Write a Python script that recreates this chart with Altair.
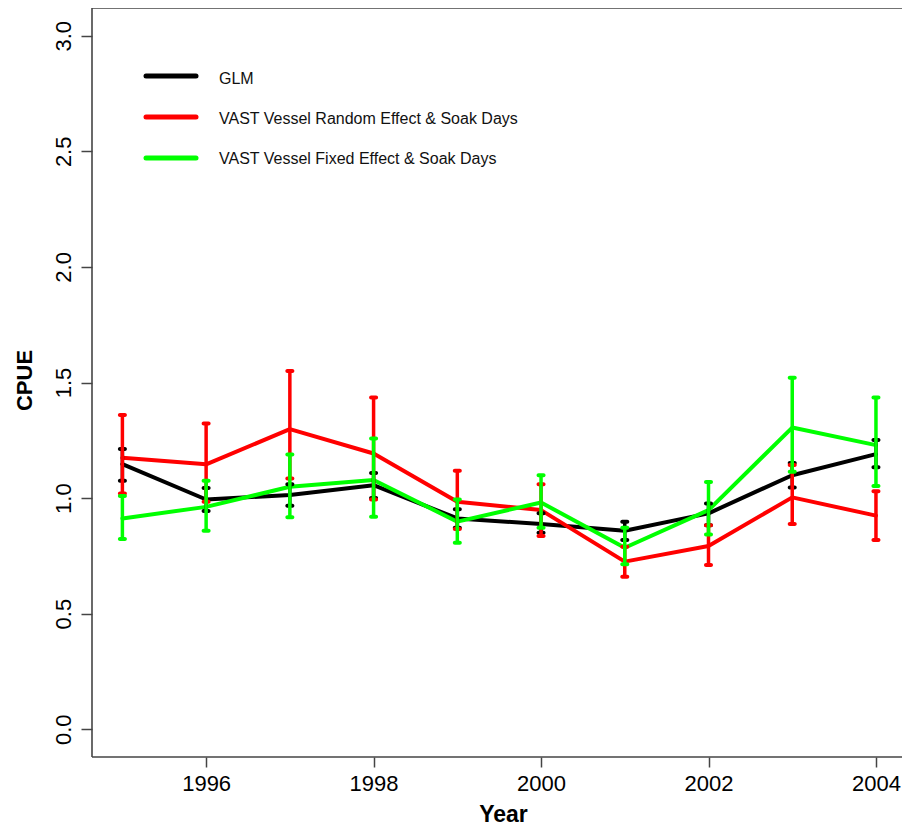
import altair as alt
import pandas as pd

# ---- data ----
years = [1995, 1996, 1997, 1998, 1999, 2000, 2001, 2002, 2003, 2004]

series_names = ["GLM",
                "VAST Vessel Random Effect & Soak Days",
                "VAST Vessel Fixed Effect & Soak Days"]
series_colors = ["#000000", "#FF0000", "#00FF00"]

glm_mean = [1.147, 0.994, 1.013, 1.056, 0.912, 0.888, 0.859, 0.934, 1.099, 1.190]
glm_lo   = [1.075, 0.944, 0.967, 1.000, 0.872, 0.850, 0.819, 0.883, 1.046, 1.133]
glm_hi   = [1.212, 1.044, 1.060, 1.109, 0.952, 0.934, 0.898, 0.977, 1.152, 1.251]

re_mean = [1.174, 1.146, 1.298, 1.193, 0.984, 0.948, 0.725, 0.793, 1.003, 0.924]
re_lo   = [1.020, 0.984, 1.085, 0.994, 0.866, 0.836, 0.660, 0.711, 0.888, 0.819]
re_hi   = [1.359, 1.323, 1.550, 1.435, 1.118, 1.060, 0.790, 0.883, 1.143, 1.030]

fe_mean = [0.912, 0.962, 1.049, 1.078, 0.898, 0.981, 0.785, 0.948, 1.305, 1.229]
fe_lo   = [0.823, 0.859, 0.917, 0.919, 0.807, 0.872, 0.714, 0.843, 1.114, 1.052]
fe_hi   = [1.009, 1.075, 1.189, 1.258, 0.994, 1.099, 0.872, 1.070, 1.521, 1.435]

x_ticks = [1996, 1998, 2000, 2002, 2004]
y_ticks = [0.0, 0.5, 1.0, 1.5, 2.0, 2.5, 3.0]

means = [glm_mean, re_mean, fe_mean]
los = [glm_lo, re_lo, fe_lo]
his = [glm_hi, re_hi, fe_hi]

FONT = "Liberation Sans"
W, H = 810, 749

xscale = alt.Scale(domain=[1994.637, 2004.311], nice=False, zero=False)
yscale = alt.Scale(domain=[-0.12, 3.12], nice=False, zero=False)

xaxis = alt.Axis(values=x_ticks, format="d", title="Year", grid=False, domain=False,
                 labelFontSize=22, labelFont=FONT, labelColor="#000000",
                 tickSize=10, tickColor="#444444", tickWidth=1.5, labelPadding=6,
                 titleFontSize=23, titleFont=FONT, titleFontWeight="bold",
                 titleColor="#000000", titleBaseline="alphabetic", titleY=64,
                 titleX=411, labelFlush=False)
yaxis = alt.Axis(values=y_ticks, format=".1f", title="CPUE", grid=False, domain=False,
                 labelFontSize=22, labelFont=FONT, labelColor="#000000",
                 labelAngle=270, labelAlign="center", labelBaseline="alphabetic",
                 tickSize=11, tickColor="#444444", tickWidth=1.5, labelPadding=11,
                 titleFontSize=22, titleFont=FONT, titleFontWeight="bold",
                 titleColor="#000000", titleAngle=270, titleAlign="center",
                 titleBaseline="middle", titleX=-68, titleY=372, labelFlush=False)


def X(field):
    return alt.X(f"{field}:Q", scale=xscale, axis=xaxis)


def Y(field):
    return alt.Y(f"{field}:Q", scale=yscale, axis=yaxis)


one = pd.DataFrame({"k": [0]})

# plot frame: left, top and bottom (the reference's right edge lies outside the picture)
frame_layers = [
    alt.Chart(one).mark_rule(color="#444444", strokeWidth=1.6).encode(
        x=alt.value(0), y=alt.value(0), y2=alt.value(H)),
    alt.Chart(one).mark_rule(color="#444444", strokeWidth=1.6).encode(
        x=alt.value(0), x2=alt.value(W), y=alt.value(0)),
    alt.Chart(one).mark_rule(color="#444444", strokeWidth=1.6).encode(
        x=alt.value(0), x2=alt.value(W), y=alt.value(H)),
]

line_layers = []
err_layers = []
for name, col, m, lo, hi in zip(series_names, series_colors, means, los, his):
    df = pd.DataFrame({"year": years, "cpue": m, "lo": lo, "hi": hi})
    line_layers.append(
        alt.Chart(df).mark_line(color=col, strokeWidth=4, strokeCap="round",
                                strokeJoin="round").encode(x=X("year"), y=Y("cpue"))
    )
    err_layers.append(
        alt.Chart(df).mark_rule(color=col, strokeWidth=3.5).encode(
            x=X("year"), y=Y("lo"), y2="hi")
    )
    caps = pd.DataFrame({"year": years + years, "cap": lo + hi})
    err_layers.append(
        alt.Chart(caps).mark_tick(color=col, orient="horizontal", size=9,
                                  thickness=4, cornerRadius=2, opacity=1).encode(
            x=X("year"), y=Y("cap"))
    )

# manual in-plot legend (no box), as in the reference
legend_layers = []
leg_line_y = [68, 109, 150]
leg_text_y = [71, 111, 151]
for name, col, ly, ty in zip(series_names, series_colors, leg_line_y, leg_text_y):
    legend_layers.append(
        alt.Chart(one).mark_rule(color=col, strokeWidth=5, strokeCap="round").encode(
            x=alt.value(54), x2=alt.value(104), y=alt.value(ly))
    )
    legend_layers.append(
        alt.Chart(one).mark_text(text=name, align="left", baseline="middle",
                                 fontSize=16, font=FONT, color="#111111").encode(
            x=alt.value(127), y=alt.value(ty))
    )

chart = alt.layer(*line_layers, *err_layers, *legend_layers, *frame_layers).properties(
    width=W, height=H,
    autosize=alt.AutoSizeParams(type="none"),
    padding={"left": 84, "top": 0, "right": 0, "bottom": 69},
    background="white",
).configure_view(stroke=None)

chart.save("out.html", embed_options={"renderer": "svg", "actions": False})
